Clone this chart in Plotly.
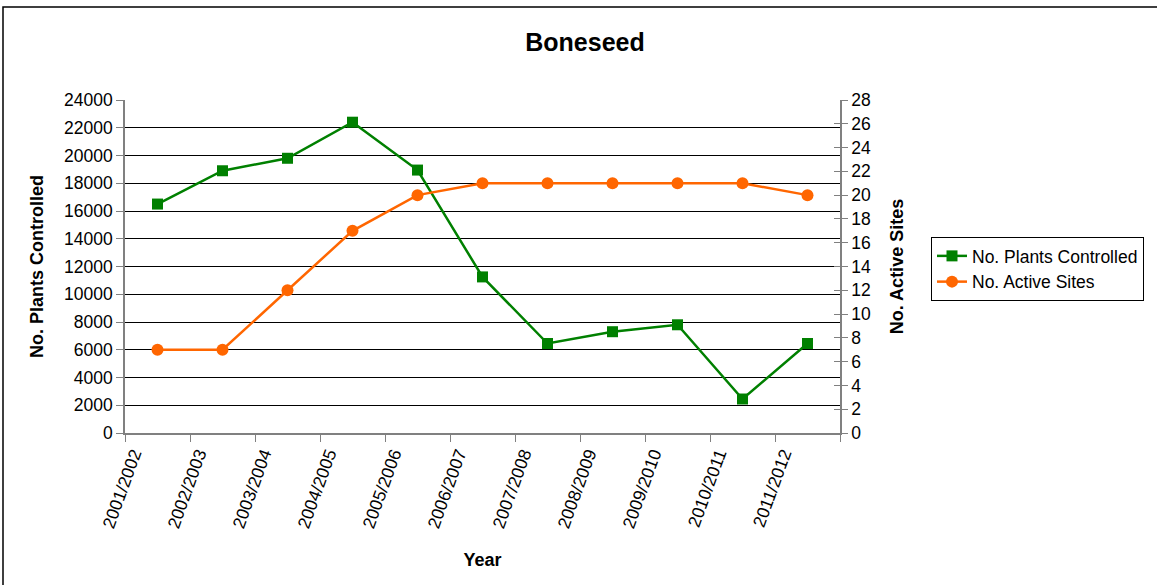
import plotly.graph_objects as go

years = ["2001/2002", "2002/2003", "2003/2004", "2004/2005", "2005/2006", "2006/2007",
         "2007/2008", "2008/2009", "2009/2010", "2010/2011", "2011/2012"]
plants_controlled = [16500, 18900, 19800, 22400, 18950, 11250, 6450, 7300, 7800, 2450, 6450]
active_sites = [7, 7, 12, 17, 20, 21, 21, 21, 21, 21, 20]

FONT = "Liberation Sans, Arial, sans-serif"
TICK = 17.5
AXT = 18

fig = go.Figure()
fig.add_trace(go.Scatter(
    x=years, y=plants_controlled, name="No. Plants Controlled", mode="lines+markers",
    line=dict(color="#008000", width=2.5),
    marker=dict(symbol="square", size=11, color="#008000"),
    yaxis="y"))
fig.add_trace(go.Scatter(
    x=years, y=active_sites, name="No. Active Sites", mode="lines+markers",
    line=dict(color="#FF6600", width=2.5),
    marker=dict(symbol="circle", size=12, color="#FF6600"),
    yaxis="y2"))

fig.update_layout(
    width=1157, height=585,
    margin=dict(l=125, r=317, t=100, b=152),
    paper_bgcolor="white", plot_bgcolor="white",
    font=dict(family=FONT, size=TICK, color="black"),
    title=dict(text="<b>Boneseed</b>", x=(585 / 1157), xanchor="center",
               y=1 - 42 / 585, yanchor="middle", font=dict(size=25)),
    xaxis=dict(type="category", range=[-0.5, len(years) - 0.5], tickangle=-70,
               tickson="boundaries",
               ticks="outside", ticklen=7, tickcolor="#808080",
               ticklabelshift=-24, ticklabelstandoff=2,
               showline=True, linecolor="#808080", linewidth=1.5,
               showgrid=False, zeroline=False,
               title=dict(text="<b>Year</b>", font=dict(size=AXT), standoff=23),
               tickfont=dict(size=TICK)),
    yaxis=dict(range=[0, 24000], dtick=2000, tickformat="d",
               ticks="outside", ticklen=7, tickcolor="#808080",
               showline=True, linecolor="#808080", linewidth=1.5,
               showgrid=True, gridcolor="black", gridwidth=1, zeroline=False,
               title=dict(text="<b>No. Plants Controlled</b>", font=dict(size=AXT), standoff=16),
               tickfont=dict(size=TICK)),
    yaxis2=dict(range=[0, 28], dtick=2, overlaying="y", side="right",
                ticks="outside", ticklen=6, tickcolor="#808080",
                showline=True, linecolor="#808080", linewidth=1.5,
                showgrid=False, zeroline=False,
                title=dict(text="<b>No. Active Sites</b>", font=dict(size=AXT), standoff=20),
                tickfont=dict(size=TICK)),
    yaxis3=dict(range=[0, 28], dtick=2, overlaying="y", side="right", anchor="x",
                ticks="inside", ticklen=6, tickcolor="#808080",
                showline=False, showgrid=False, zeroline=False, showticklabels=False),
    legend=dict(x=(931 - 125) / 715, y=(433 - 237) / 333, xanchor="left", yanchor="top",
                bordercolor="black", borderwidth=1, bgcolor="white",
                font=dict(size=TICK), tracegroupgap=0),
    showlegend=True,
    shapes=[dict(type="rect", xref="paper", yref="paper",
                 x0=(3 - 125) / 715, x1=(1170 - 125) / 715,
                 y0=(433 - 600) / 333, y1=(433 - 7) / 333,
                 line=dict(color="black", width=1.5), fillcolor="rgba(0,0,0,0)", layer="below")],
)
# invisible trace to activate the tick-only third axis
fig.add_trace(go.Scatter(x=[years[0]], y=[0], yaxis="y3", mode="markers",
                         marker=dict(opacity=0), showlegend=False, hoverinfo="skip"))

fig.write_html("out.html")
